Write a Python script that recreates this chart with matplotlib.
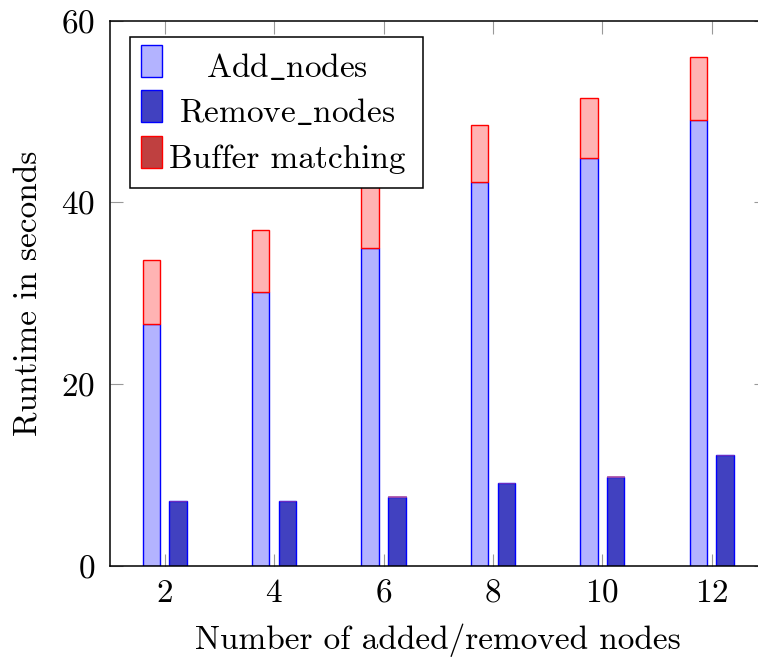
import numpy as np
import matplotlib.pyplot as plt
from matplotlib.patches import Rectangle

# data
nodes = [2, 4, 6, 8, 10, 12]
add_nodes = [26.6, 30.1, 35.0, 42.2, 44.9, 49.1]
add_buffer = [7.1, 6.9, 7.0, 6.3, 6.6, 6.9]
remove_nodes = [7.1, 7.1, 7.6, 9.1, 9.8, 12.2]
remove_buffer = [0.04, 0.04, 0.04, 0.04, 0.04, 0.04]

legend_labels = [r"Add$\_$nodes", r"Remove$\_$nodes", "Buffer matching"]

plt.rcParams['font.family'] = 'serif'
plt.rcParams['font.serif'] = ['cmr10']
plt.rcParams['mathtext.fontset'] = 'cm'
plt.rcParams['axes.formatter.use_mathtext'] = True
plt.rcParams['font.size'] = 24

fig = plt.figure(figsize=(7.58, 6.6), dpi=100)
W, H = 758, 660
ax = fig.add_axes([110 / W, (H - 565.7) / H, 656.4 / W, 545 / H])

x = np.array(nodes, dtype=float)
width = 0.32
offset = 0.245

light_blue = '#b3b3ff'
dark_blue = '#4141c0'
light_red = '#ffb3b3'
legend_red = '#bf4040'

ax.bar(x - offset, add_nodes, width, color=light_blue, edgecolor='blue', linewidth=1)
ax.bar(x - offset, add_buffer, width, bottom=add_nodes, color=light_red,
       edgecolor='red', linewidth=1)
ax.bar(x + offset, remove_nodes, width, color=dark_blue, edgecolor='blue', linewidth=1)
ax.bar(x + offset, remove_buffer, width, bottom=remove_nodes, color=light_red,
       edgecolor='#a040a0', linewidth=0.5)

ax.set_xlim(1, 13)
ax.set_ylim(0, 60)
ax.set_xticks(nodes)
ax.set_yticks([0, 20, 40, 60])

ax.tick_params(direction='in', length=9, width=0.8, color='0.6',
               top=True, right=True)
ax.tick_params(axis='x', pad=9.5)
ax.tick_params(axis='y', pad=10.5)
for s in ax.spines.values():
    s.set_linewidth(1.1)

ax.set_xlabel("Number of added/removed nodes", labelpad=11)
ax.set_ylabel("Runtime in seconds", labelpad=13)

# pgfplots-style legend, entries centred
ax.add_patch(Rectangle((0.0305, 0.6936), 0.4459, 0.2759, transform=ax.transAxes,
                       facecolor='white', edgecolor='black', linewidth=1.1, zorder=5))
faces = [light_blue, dark_blue, legend_red]
edges = ['blue', 'blue', 'red']
rows = [0.8972, 0.8138, 0.7290]
for label, fc, ec, y0 in zip(legend_labels, faces, edges, rows):
    ax.add_patch(Rectangle((0.0468, y0), 0.032, 0.059, transform=ax.transAxes,
                           facecolor=fc, edgecolor=ec, linewidth=1, zorder=6))
    ax.text(0.2697, y0, label, transform=ax.transAxes, ha='center', va='baseline',
            zorder=6)

fig.savefig("out.png", dpi=100)
